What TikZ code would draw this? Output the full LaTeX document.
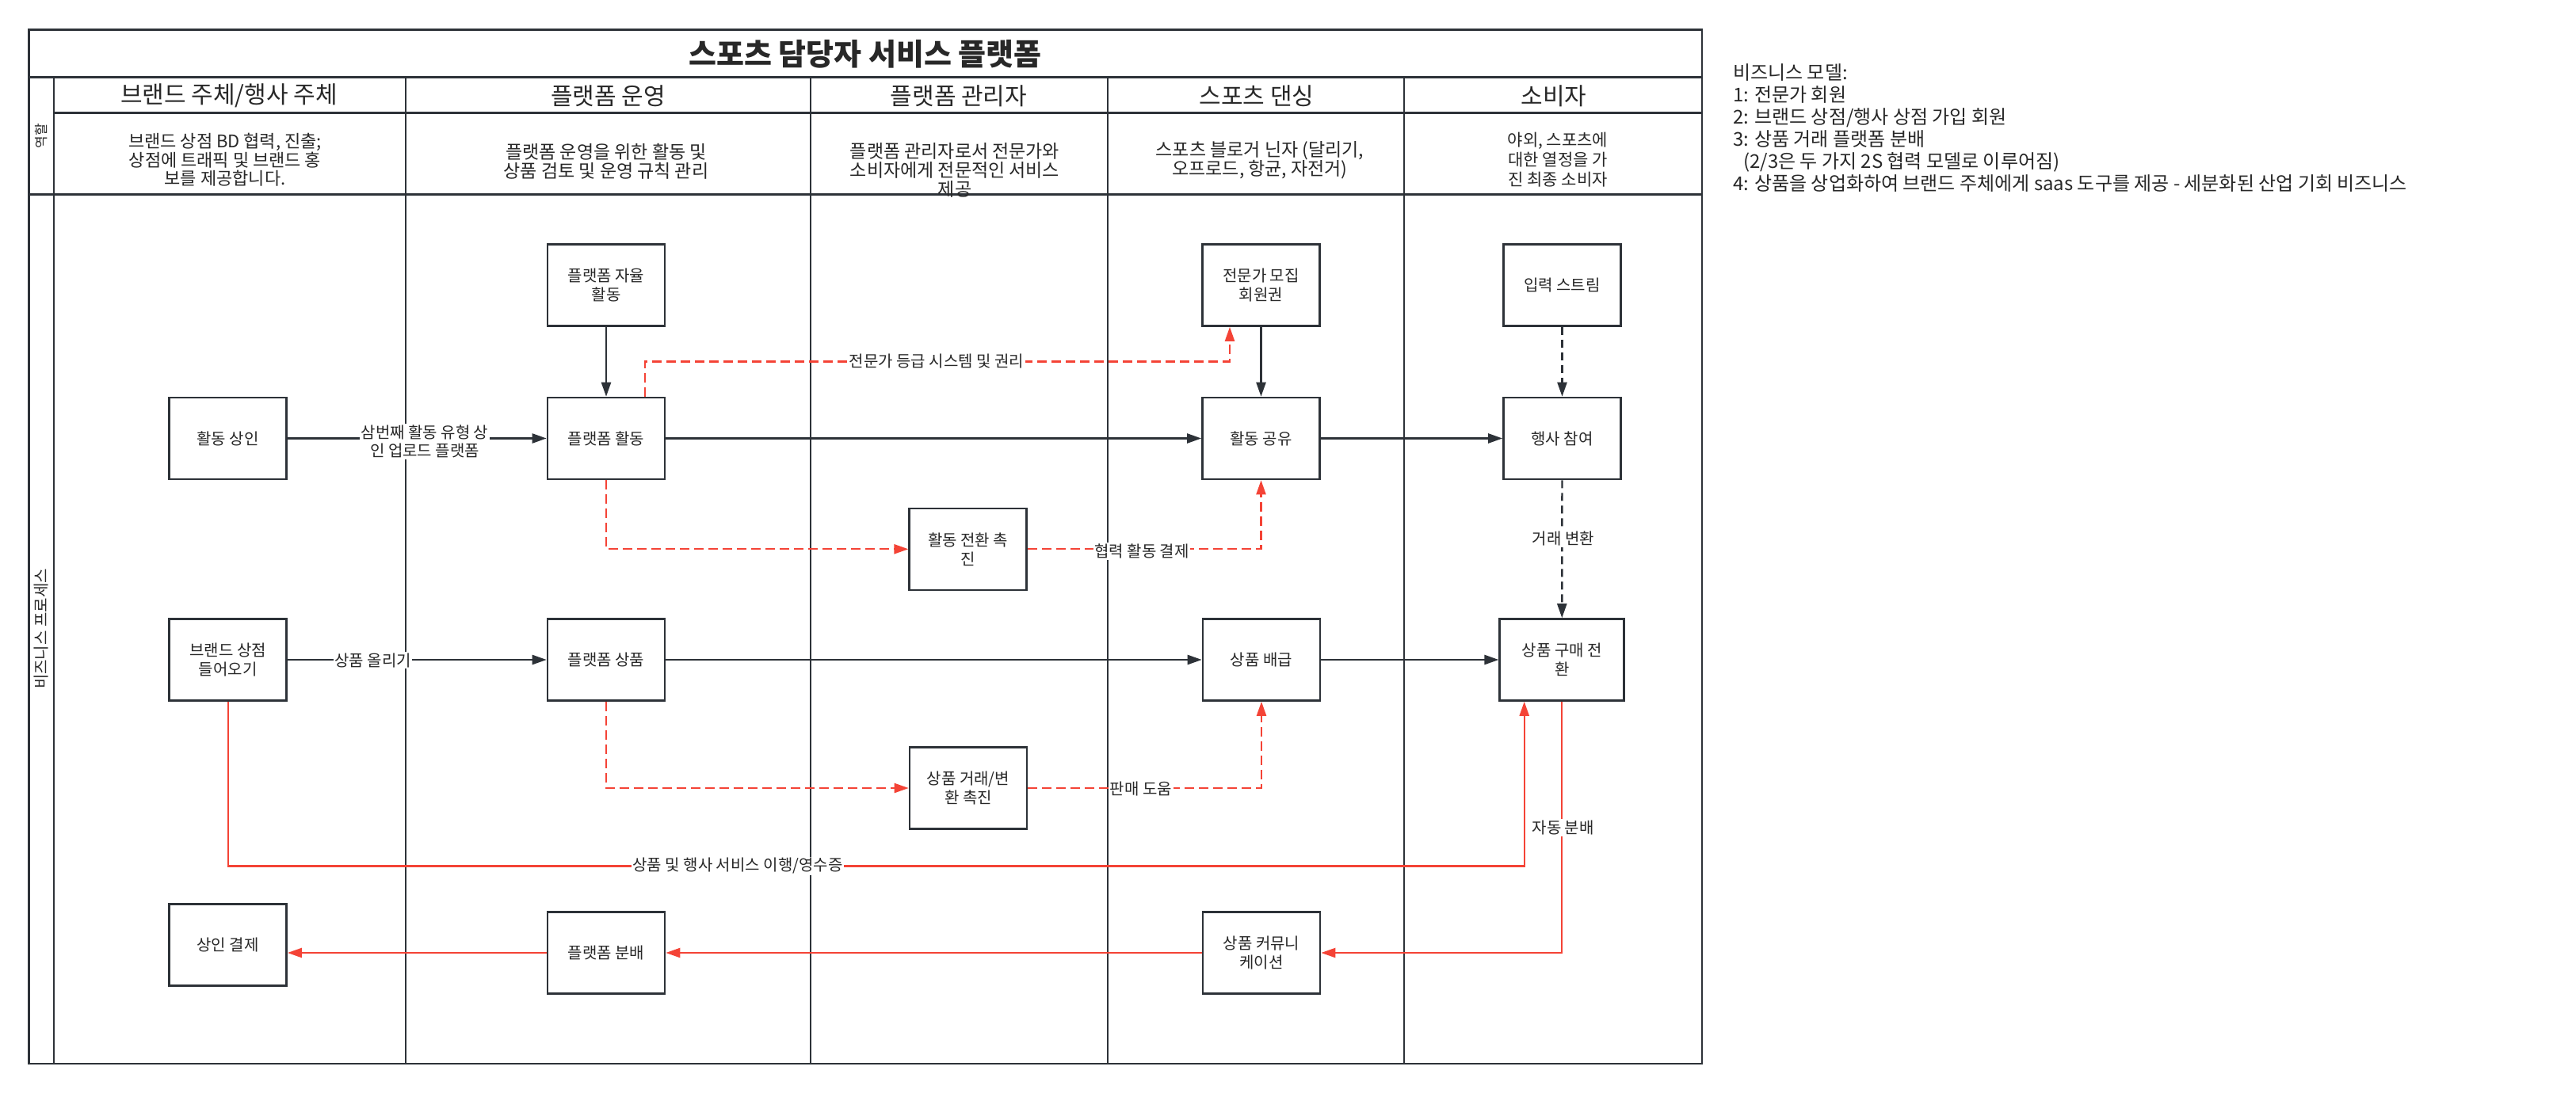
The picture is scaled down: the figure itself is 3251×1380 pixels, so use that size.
\documentclass[tikz,border=0pt]{standalone}
\usepackage{fontspec}
\setmainfont{Noto Sans CJK KR}
\usetikzlibrary{arrows.meta,calc}
\definecolor{lanecol}{RGB}{45,50,56}
\definecolor{redc}{RGB}{244,67,54}
\definecolor{txt}{RGB}{40,40,40}
\begin{document}
\begin{tikzpicture}[x=1pt,y=-1pt,
  lane/.style={draw=lanecol,line width=2.6pt},
  box/.style={draw=lanecol,line width=2.6pt,fill=white,minimum width=148pt,minimum height=103pt,align=center,font=\fontsize{20}{24}\selectfont,text=txt,inner sep=0pt},
  blk/.style={draw=lanecol,line width=2.4pt,-{Triangle[length=18pt,width=12pt]}},
  blkd/.style={blk,dash pattern=on 10pt off 6pt},
  redd/.style={draw=redc,line width=2.2pt,dash pattern=on 12pt off 6pt,-{Triangle[length=18pt,width=12pt]}},
  reds/.style={draw=redc,line width=2.2pt,-{Triangle[length=18pt,width=12pt]}},
  lbl/.style={fill=white,inner sep=1.5pt,font=\fontsize{20}{23.6}\selectfont,text=txt,align=center},
  hdr/.style={font=\fontsize{30}{34}\selectfont,text=txt},
  role/.style={font=\fontsize{23}{24}\selectfont,text=txt,align=center},
]
\useasboundingbox[fill=white] (0,0) rectangle (3251,1380);

% swimlane frame
\draw[lane] (36.5,37.5) rectangle (2148,1343);
\draw[lane] (36.5,97.3) -- (2148,97.3);
\draw[lane] (68,97.3) -- (68,1343);
\draw[lane] (68,142.7) -- (2148,142.7);
\draw[lane] (36.5,245.7) -- (2148,245.7);
\foreach \x in {512,1023,1398,1772} \draw[lane] (\x,97.3) -- (\x,1343);

% title, headers, roles
\node[font=\fontsize{38}{42}\selectfont\bfseries,text=txt] (title) at (1092,68) {스포츠 담당자 서비스 플랫폼};
\node[hdr] (h1) at (289,121) {브랜드 주체/행사 주체};
\node[hdr] (h2) at (767.5,121) {플랫폼 운영};
\node[hdr] (h3) at (1210,121) {플랫폼 관리자};
\node[hdr] (h4) at (1586,121) {스포츠 댄싱};
\node[hdr] (h5) at (1961,121) {소비자};
\node[rotate=90,font=\fontsize{17}{18}\selectfont,text=txt] (rolelbl) at (52,171.5) {역할};
\node[rotate=90,font=\fontsize{20}{22}\selectfont,text=txt] (proclbl) at (52,794) {비즈니스 프로세스};

\node[role,font=\fontsize{22}{23.5}\selectfont] (r1) at (284,202) {브랜드 상점 BD 협력, 진출;\\상점에 트래픽 및 브랜드 홍\\보를 제공합니다.};
\node[role] (r2) at (765,204) {플랫폼 운영을 위한 활동 및\\상품 검토 및 운영 규칙 관리};
\node[role] (r3) at (1205,215) {플랫폼 관리자로서 전문가와\\소비자에게 전문적인 서비스\\제공};
\node[role] (r4) at (1590,202) {스포츠 블로거 닌자 (달리기,\\오프로드, 항균, 자전거)};
\node[role,font=\fontsize{21}{25}\selectfont] (r5) at (1966,202) {야외, 스포츠에\\대한 열정을 가\\진 최종 소비자};

% business model notes
\node[anchor=north west,align=left,inner sep=0pt,font=\fontsize{24}{28}\selectfont,text=txt] (bm) at (2187,80) {비즈니스 모델:\\1: 전문가 회원\\2: 브랜드 상점/행사 상점 가입 회원\\3: 상품 거래 플랫폼 분배\\\hspace*{13pt}(2/3은 두 가지 2S 협력 모델로 이루어짐)\\4: 상품을 상업화하여 브랜드 주체에게 saas 도구를 제공 - 세분화된 산업 기회 비즈니스};

% process boxes
\node[box] (mer) at (287.6,553.5) {활동 상인};
\node[box] (auto) at (765,360) {플랫폼 자율\\활동};
\node[box] (pact) at (765,553.5) {플랫폼 활동};
\node[box] (expert) at (1591.5,360) {전문가 모집\\회원권};
\node[box] (share) at (1591.5,553.5) {활동 공유};
\node[box] (input) at (1971.5,360) {입력 스트림};
\node[box] (join) at (1971.5,553.5) {행사 참여};
\node[box] (conv) at (1221.7,693.3) {활동 전환 촉\\진};
\node[box] (brand) at (287.6,833) {브랜드 상점\\들어오기};
\node[box] (pgoods) at (765,833) {플랫폼 상품};
\node[box] (dist) at (1592,833) {상품 배급};
\node[box,minimum width=157pt] (buy) at (1971.2,833) {상품 구매 전\\환};
\node[box] (trade) at (1222,995) {상품 거래/변\\환 촉진};
\node[box] (pay) at (287.6,1193) {상인 결제};
\node[box] (pdist) at (765,1203) {플랫폼 분배};
\node[box] (comm) at (1592,1203) {상품 커뮤니\\케이션};

% black connectors
\draw[blk] (mer) -- (pact);
\draw[blk] (auto) -- (pact);
\draw[blk] (pact) -- (share);
\draw[blk] (expert) -- (share);
\draw[blk] (share) -- (join);
\draw[blkd] (input) -- (join);
\draw[blkd] (join) -- (buy);
\draw[blk] (brand) -- (pgoods);
\draw[blk] (pgoods) -- (dist);
\draw[blk] (dist) -- (buy);

% red dashed connectors
\coordinate (ga) at (813.7,456.4);
\coordinate (gb) at (1552,456.4);
\draw[redd] (pact.north -| ga) -- (ga) -- (gb) -- (expert.south -| gb);
\draw[redd] (pact.south) |- (conv.west);
\draw[redd] (conv.east) -| (share.south);
\draw[redd] (pgoods.south) |- (trade.west);
\draw[redd] (trade.east) -| (dist.south);

% red solid connectors
\coordinate (pa) at (287.6,1093.5);
\coordinate (pb) at (1923.7,1093.5);
\draw[reds] (brand.south) -- (pa) -- (pb) -- (buy.south -| pb);
\draw[reds] (buy.south) |- (comm.east);
\draw[reds] (comm.west) -- (pdist.east);
\draw[reds] (pdist.west) -- (pdist.west -| pay.east);

% connector labels
\node[lbl] (l1) at (536,557.5) {삼번째 활동 유형 상\\인 업로드 플랫폼};
\node[lbl] (l2) at (470.7,833.8) {상품 올리기};
\node[lbl] (l3) at (1182,456.4) {전문가 등급 시스템 및 권리};
\node[lbl] (l4) at (1441,696) {협력 활동 결제};
\node[lbl] (l5) at (1440,996) {판매 도움};
\node[lbl] (l6) at (1973,680) {거래 변환};
\node[lbl] (l7) at (931,1093.5) {상품 및 행사 서비스 이행/영수증};
\node[lbl] (l8) at (1972.7,1045) {자동 분배};
\end{tikzpicture}
\end{document}
